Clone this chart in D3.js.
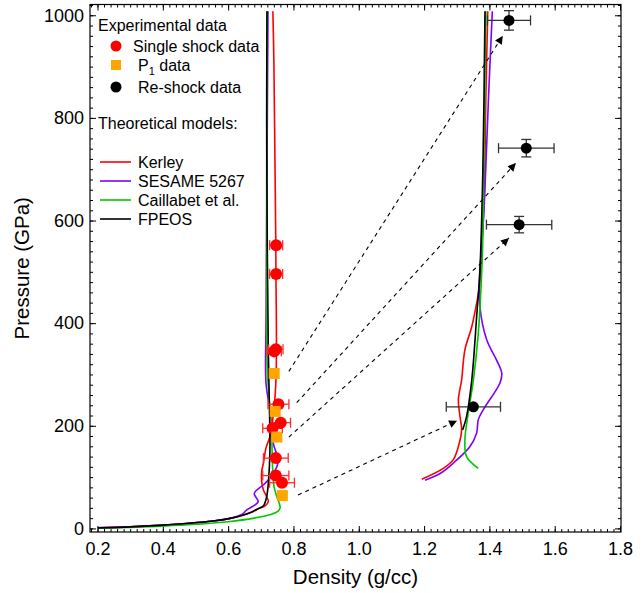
<!DOCTYPE html>
<html>
<head>
<meta charset="utf-8">
<script src="https://cdn.jsdelivr.net/npm/d3@7"></script>
<style>
  body { margin: 0; background: #fff; }
  svg text { font-family: "Liberation Sans", Arial, Helvetica, sans-serif; fill: #000; }
</style>
</head>
<body>
<svg id="chart" width="644" height="593"></svg>
<script>
// single shock data (red circles): density, pressure, density error
const shockRho = [0.747, 0.747, 0.741, 0.746, 0.754, 0.761, 0.736, 0.746, 0.746, 0.765];
const shockP   = [552, 496, 345, 349, 242, 206, 195, 137, 103, 89];
const shockErr = [0.02, 0.02, 0.022, 0.022, 0.032, 0.03, 0.03, 0.038, 0.04, 0.038];

// P1 data (orange squares)
const p1Rho = [0.741, 0.744, 0.749, 0.766];
const p1P   = [302, 228, 178, 64];

// re-shock data (black circles)
const reRho    = [1.46, 1.513, 1.491, 1.351];
const reP      = [990, 741, 592, 237];
const reRhoErr = [0.066, 0.085, 0.1, 0.083];
const rePErr   = [19, 17, 16, 0];

// dashed arrows, from single shock state to re-shock state
const arrowStart = [[0.814, 65], [0.786, 178], [0.81, 245], [0.786, 306]];
const arrowEnd   = [[1.301, 210], [1.46, 566], [1.481, 712], [1.441, 960]];

// model curves [density, pressure]
const kerleyMain = [[0.2,1],[0.3,3],[0.39,6],[0.48,10],[0.56,15],[0.606,19.5],[0.642,25],[0.673,32],[0.691,38],
  [0.713,44],[0.723,52],[0.718,62],[0.708,75],[0.703,90],[0.703,112],[0.708,127],[0.716,157],[0.728,179],
  [0.74,231],[0.7465,290],[0.748,368],[0.7465,484],[0.746,551],[0.743,738],[0.74,913],[0.737,1008]];
const kerleyRe = [[1.193,96],[1.259,117],[1.289,133.5],[1.305,159.5],[1.315,192],[1.31,218],[1.305,250.5],
  [1.315,289.5],[1.325,348],[1.346,393],[1.361,439],[1.371,478],[1.376,543],[1.384,640],[1.389,835],[1.395,1008]];

const sesameMain = [[0.2,1],[0.3,3],[0.39,6],[0.48,10],[0.56,15],[0.606,19.5],[0.642,27],[0.657,36],
  [0.692,52],[0.68,68],[0.708,85],[0.733,101],[0.749,120],[0.754,133],[0.738,166],[0.728,231],[0.716,283],
  [0.716,400],[0.718,600],[0.72,800],[0.722,1008]];
const sesameRe = [[1.203,94],[1.249,107],[1.289,127],[1.34,159],[1.361,186],[1.366,212],[1.381,231],
  [1.432,283],[1.438,302],[1.422,328],[1.392,367],[1.371,432],[1.371,504],[1.376,543],[1.385,640],[1.397,835],[1.409,1008]];

const caillabetMain = [[0.2,0.5],[0.3,2],[0.4,4.5],[0.5,8],[0.6,13],[0.68,20],[0.73,27],[0.752,33],[0.759,40],
  [0.757,48],[0.749,62],[0.741,80],[0.738,95],[0.735,140],[0.733,192],[0.726,250],[0.72,310],[0.718,450],
  [0.718,700],[0.719,1008]];
const caillabetRe = [[1.366,117],[1.33,140],[1.325,172],[1.335,224],[1.351,289],[1.366,380],[1.374,465],
  [1.379,543],[1.383,700],[1.389,1008]];

const fpeosMain = [[0.2,1],[0.3,3],[0.39,6],[0.48,10],[0.56,15],[0.606,19.5],[0.642,25],[0.673,32],[0.691,38],
  [0.708,44],[0.718,62],[0.723,88],[0.728,153],[0.726,250],[0.723,348],[0.72,543],[0.718,800],[0.719,1008]];
const fpeosRe = [[1.318,192],[1.33,218],[1.346,289],[1.361,413],[1.371,504],[1.38,700],[1.3865,1008]];

const models = [
  { name: "Kerley", color: "#ff0000", main: kerleyMain, re: kerleyRe },
  { name: "SESAME 5267", color: "#7f00ff", main: sesameMain, re: sesameRe },
  { name: "Caillabet et al.", color: "#00c800", main: caillabetMain, re: caillabetRe },
  { name: "FPEOS", color: "#000000", main: fpeosMain, re: fpeosRe }
];

const xTicks = [0.2, 0.4, 0.6, 0.8, 1.0, 1.2, 1.4, 1.6, 1.8];
const yTicks = [0, 200, 400, 600, 800, 1000];

const svg = d3.select("#chart");
const pLeft = 90, pRight = 621, pTop = 4.5, pBottom = 532;

const x = d3.scaleLinear().domain([0.177, 1.803]).range([pLeft, pRight]);
const y = d3.scaleLinear().domain([-7, 1021]).range([pBottom, pTop]);

// axes, ticks inward on all four sides
const xMinor = d3.range(0.18, 1.801, 0.02);
const yMinor = d3.range(0, 1021, 20);

function styleAxis(g) {
  g.select(".domain").remove();
  g.selectAll("line").attr("stroke", "#000");
}

svg.append("g").attr("transform", `translate(0,${pBottom})`)
  .call(d3.axisBottom(x).tickValues(xMinor).tickSize(-3).tickFormat(""))
  .call(styleAxis);
svg.append("g").attr("transform", `translate(0,${pBottom})`)
  .call(d3.axisBottom(x).tickValues(xTicks).tickSize(-6).tickPadding(10).tickFormat(d3.format(".1f")))
  .call(styleAxis)
  .selectAll("text").attr("font-size", 18);
svg.append("g").attr("transform", `translate(0,${pTop})`)
  .call(d3.axisTop(x).tickValues(xMinor).tickSize(-3).tickFormat(""))
  .call(styleAxis);
svg.append("g").attr("transform", `translate(0,${pTop})`)
  .call(d3.axisTop(x).tickValues(xTicks).tickSize(-6).tickFormat(""))
  .call(styleAxis);

svg.append("g").attr("transform", `translate(${pLeft},0)`)
  .call(d3.axisLeft(y).tickValues(yMinor).tickSize(-3).tickFormat(""))
  .call(styleAxis);
svg.append("g").attr("transform", `translate(${pLeft},0)`)
  .call(d3.axisLeft(y).tickValues(yTicks).tickSize(-6).tickPadding(6).tickFormat(d3.format("d")))
  .call(styleAxis)
  .selectAll("text").attr("font-size", 18);
svg.append("g").attr("transform", `translate(${pRight},0)`)
  .call(d3.axisRight(y).tickValues(yMinor).tickSize(-3).tickFormat(""))
  .call(styleAxis);
svg.append("g").attr("transform", `translate(${pRight},0)`)
  .call(d3.axisRight(y).tickValues(yTicks).tickSize(-6).tickFormat(""))
  .call(styleAxis);

svg.append("rect")
  .attr("x", pLeft).attr("y", pTop)
  .attr("width", pRight - pLeft).attr("height", pBottom - pTop)
  .attr("fill", "none").attr("stroke", "#000").attr("stroke-width", 1.2);

svg.append("text")
  .attr("x", (pLeft + pRight) / 2).attr("y", 584)
  .attr("text-anchor", "middle").attr("font-size", 20.5)
  .text("Density (g/cc)");
svg.append("text")
  .attr("transform", `translate(29,${(pTop + pBottom) / 2}) rotate(-90)`)
  .attr("text-anchor", "middle").attr("font-size", 20.5)
  .text("Pressure (GPa)");

// model curves
const line = d3.line().x(d => x(d[0])).y(d => y(d[1])).curve(d3.curveCatmullRom.alpha(0.5));
const plot = svg.append("g");
models.forEach(m => {
  [m.main, m.re].forEach(pts => {
    plot.append("path").datum(pts)
      .attr("d", line)
      .attr("fill", "none")
      .attr("stroke", m.color)
      .attr("stroke-width", 1.6);
  });
});

// dashed arrows
svg.append("defs").append("marker")
  .attr("id", "arrow").attr("viewBox", "0 0 10 10")
  .attr("refX", 10).attr("refY", 5)
  .attr("markerWidth", 11).attr("markerHeight", 8)
  .attr("markerUnits", "userSpaceOnUse")
  .attr("orient", "auto")
  .append("path").attr("d", "M0,0 L10,5 L0,10 Z").attr("fill", "#000");

arrowStart.forEach((s, i) => {
  const e = arrowEnd[i];
  plot.append("line")
    .attr("x1", x(s[0])).attr("y1", y(s[1]))
    .attr("x2", x(e[0])).attr("y2", y(e[1]))
    .attr("stroke", "#000").attr("stroke-width", 1.1)
    .attr("stroke-dasharray", "4,4")
    .attr("marker-end", "url(#arrow)");
});

// error bars
function errorBarX(g, cx, cy, lo, hi, color, cap) {
  g.append("line").attr("x1", x(lo)).attr("x2", x(hi)).attr("y1", y(cy)).attr("y2", y(cy))
    .attr("stroke", color).attr("stroke-width", 1.3);
  [lo, hi].forEach(v => g.append("line").attr("x1", x(v)).attr("x2", x(v))
    .attr("y1", y(cy) - cap).attr("y2", y(cy) + cap).attr("stroke", color).attr("stroke-width", 1.3));
}
function errorBarY(g, cx, cy, lo, hi, color, cap) {
  g.append("line").attr("x1", x(cx)).attr("x2", x(cx)).attr("y1", y(lo)).attr("y2", y(hi))
    .attr("stroke", color).attr("stroke-width", 1.3);
  [lo, hi].forEach(v => g.append("line").attr("y1", y(v)).attr("y2", y(v))
    .attr("x1", x(cx) - cap).attr("x2", x(cx) + cap).attr("stroke", color).attr("stroke-width", 1.3));
}

const pts = svg.append("g");
shockRho.forEach((r, i) => {
  errorBarX(pts, r, shockP[i], r - shockErr[i], r + shockErr[i], "#ff2a2a", 5);
});
shockRho.forEach((r, i) => {
  pts.append("circle").attr("cx", x(r)).attr("cy", y(shockP[i])).attr("r", 6).attr("fill", "#ff0000");
});
p1Rho.forEach((r, i) => {
  pts.append("rect").attr("x", x(r) - 5.5).attr("y", y(p1P[i]) - 5.5)
    .attr("width", 11).attr("height", 11).attr("fill", "#ffa500");
});
reRho.forEach((r, i) => {
  errorBarX(pts, r, reP[i], r - reRhoErr[i], r + reRhoErr[i], "#333", 5);
  if (rePErr[i] > 0) errorBarY(pts, r, reP[i], reP[i] - rePErr[i], reP[i] + rePErr[i], "#333", 5);
  pts.append("circle").attr("cx", x(r)).attr("cy", y(reP[i])).attr("r", 5.5).attr("fill", "#000");
});

// legend
const lg = svg.append("g").attr("font-size", 16);
lg.append("text").attr("x", 98).attr("y", 31).text("Experimental data");
lg.append("circle").attr("cx", 116).attr("cy", 46).attr("r", 5.5).attr("fill", "#ff0000");
lg.append("text").attr("x", 133).attr("y", 51.5).text("Single shock data");
lg.append("rect").attr("x", 111).attr("y", 60).attr("width", 10).attr("height", 10).attr("fill", "#ffa500");
const p1t = lg.append("text").attr("x", 138).attr("y", 71);
p1t.append("tspan").text("P");
p1t.append("tspan").attr("font-size", 11).attr("dy", 4).text("1");
p1t.append("tspan").attr("dy", -4).text(" data");
lg.append("circle").attr("cx", 116).attr("cy", 87).attr("r", 5.5).attr("fill", "#000");
lg.append("text").attr("x", 138).attr("y", 92.5).text("Re-shock data");
lg.append("text").attr("x", 98).attr("y", 129).text("Theoretical models:");
models.forEach((m, i) => {
  const ly = 162 + i * 19;
  lg.append("line").attr("x1", 100).attr("x2", 131).attr("y1", ly).attr("y2", ly)
    .attr("stroke", m.color).attr("stroke-width", 1.6);
  lg.append("text").attr("x", 138).attr("y", ly + 5.5).text(m.name);
});
</script>
</body>
</html>
